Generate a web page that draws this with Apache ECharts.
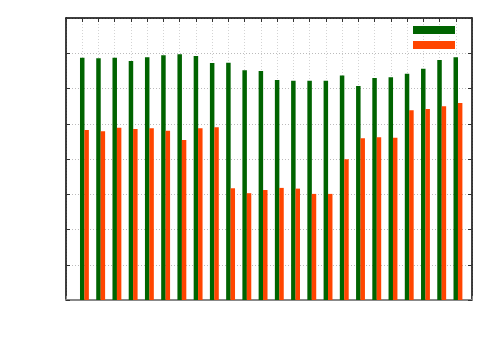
<!DOCTYPE html>
<html>
<head>
<meta charset="utf-8">
<script src="https://cdn.jsdelivr.net/npm/echarts@6/dist/echarts.min.js"></script>
<style>html,body{margin:0;padding:0;background:#fff;}#c{width:500px;height:350px;}</style>
</head>
<body>
<div id="c"></div>
<script>
// data
var positions = [1,2,3,4,5,6,7,8,9,10,11,12,13,14,15,16,17,18,19,20,21,22,23,24];
var seriesNames = ['A', 'B'];
var greenValues = [6.87,6.86,6.87,6.78,6.89,6.94,6.97,6.92,6.72,6.73,6.52,6.50,6.24,6.22,6.22,6.22,6.37,6.07,6.30,6.32,6.42,6.56,6.81,6.89];
var orangeValues = [4.82,4.79,4.89,4.85,4.87,4.80,4.54,4.87,4.90,3.17,3.03,3.12,3.18,3.16,3.01,3.01,3.99,4.59,4.62,4.60,5.38,5.42,5.50,5.59];
var pairOffset = 0.27;

var chart = echarts.init(document.getElementById('c'), null, {renderer: 'canvas'});
var gridLine = {show: true, lineStyle: {color: '#bbbbbb', type: [1, 2], width: 1}};
var option = {
  animation: false,
  backgroundColor: '#ffffff',
  grid: {left: 66, top: 18, right: 28, bottom: 50, containLabel: false},
  legend: {
    orient: 'vertical', left: 408, top: 21, padding: 5, itemWidth: 42, itemHeight: 8, itemGap: 7,
    icon: 'rect', formatter: function () { return ''; }, textStyle: {fontSize: 1},
    data: seriesNames, selectedMode: false
  },
  xAxis: [{
    type: 'value', min: 0, max: 25, interval: 1, position: 'bottom',
    axisLine: {show: true, onZero: false, lineStyle: {color: '#888888', width: 2}},
    axisTick: {show: true, inside: true, length: 4, lineStyle: {color: '#888888'}},
    axisLabel: {show: false},
    splitLine: {show: true, lineStyle: {color: '#d4d4d4', type: [1, 2], width: 1}}
  }, {
    type: 'value', min: 0, max: 25, interval: 1, position: 'top',
    axisLine: {show: true, onZero: false, lineStyle: {color: '#000000', width: 1.5}},
    axisTick: {show: true, inside: true, length: 4, lineStyle: {color: '#333333'}},
    axisLabel: {show: false}, splitLine: {show: false}
  }],
  yAxis: [{
    type: 'value', min: 0, max: 8, interval: 1, position: 'left',
    axisLine: {show: true, onZero: false, lineStyle: {color: '#000000', width: 1.5}},
    axisTick: {show: true, inside: true, length: 4, lineStyle: {color: '#333333'}},
    axisLabel: {show: false},
    splitLine: gridLine
  }, {
    type: 'value', min: 0, max: 8, interval: 1, position: 'right',
    axisLine: {show: true, onZero: false, lineStyle: {color: '#000000', width: 1.5}},
    axisTick: {show: true, inside: true, length: 4, lineStyle: {color: '#333333'}},
    axisLabel: {show: false}, splitLine: {show: false}
  }],
  series: [{
    name: seriesNames[0], type: 'bar', barWidth: 4.5, barGap: '-100%',
    itemStyle: {color: '#006400'},
    data: positions.map(function (p, i) { return [p, greenValues[i]]; })
  }, {
    name: seriesNames[1], type: 'bar', barWidth: 4.5, barGap: '-100%',
    itemStyle: {color: '#ff4500'},
    data: positions.map(function (p, i) { return [p + pairOffset, orangeValues[i]]; })
  }]
};
chart.setOption(option);
</script>
</body>
</html>
